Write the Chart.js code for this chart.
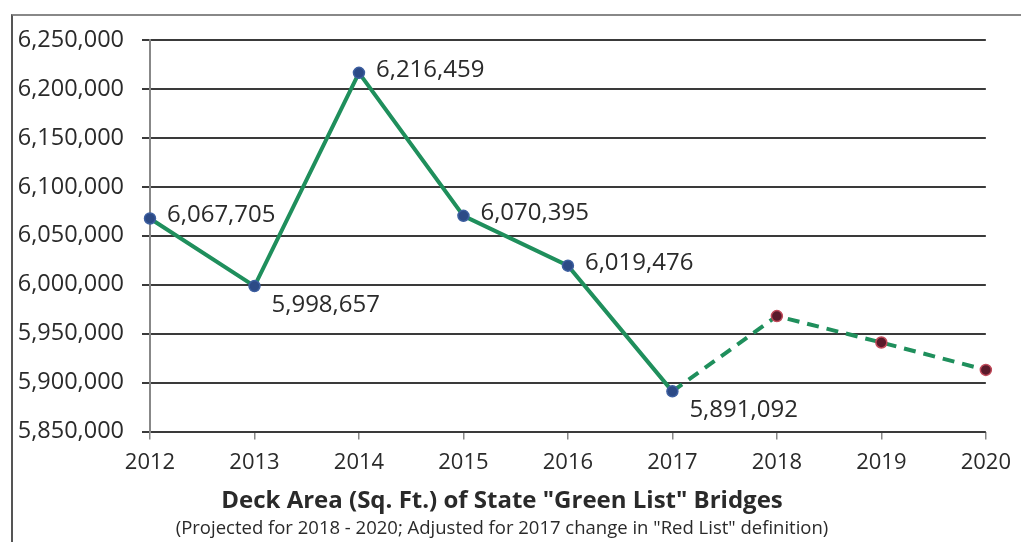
<!DOCTYPE html>
<html>
<head>
<meta charset="utf-8">
<script src="https://cdn.jsdelivr.net/npm/chart.js@4"></script>
<style>
  body { margin: 0; background: #fff; }
  #wrap { position: relative; width: 1021px; height: 542px; }
  #frame { position: absolute; left: 11px; top: 14px; right: 0; bottom: 0;
           border-left: 2px solid #555; border-top: 2px solid #888; }
  canvas { position: absolute; left: 0; top: 0; }
</style>
</head>
<body>
<div id="wrap">
  <div id="frame"></div>
  <canvas id="myChart" width="1021" height="542"></canvas>
</div>
<script>
const years = ['2012', '2013', '2014', '2015', '2016', '2017', '2018', '2019', '2020'];
const deckArea = [6067705, 5998657, 6216459, 6070395, 6019476, 5891092, 5968000, 5941000, 5913000];
const labelled = [true, true, true, true, true, true, false, false, false];
const yTicks = [5850000, 5900000, 5950000, 6000000, 6050000, 6100000, 6150000, 6200000, 6250000];

const firstProjected = 6;
const fmt = v => v.toLocaleString('en-US');
const font = '"Open Sans", "Noto Sans", sans-serif';

// value labels next to the points
const valueLabels = {
    id: 'valueLabels',
    afterDatasetsDraw(chart) {
        const ctx = chart.ctx;
        const meta = chart.getDatasetMeta(0);
        const below = { 1: true, 5: true };
        ctx.save();
        ctx.font = '24px ' + font;
        ctx.fillStyle = '#2a2a2a';
        ctx.textAlign = 'left';
        ctx.textBaseline = 'middle';
        meta.data.forEach((pt, i) => {
            if (!labelled[i]) return;
            const dy = below[i] ? 19 : -3;
            ctx.fillText(fmt(deckArea[i]), pt.x + 17, pt.y + dy);
        });
        ctx.restore();
    }
};

const ctx = document.getElementById('myChart').getContext('2d');
const myChart = new Chart(ctx, {
    type: 'line',
    data: {
        labels: years,
        datasets: [{
            data: deckArea,
            borderColor: '#1f8f5c',
            borderWidth: 4,
            pointRadius: 5.5,
            pointBorderWidth: 1.5,
            pointBackgroundColor: deckArea.map((v, i) => i < firstProjected ? '#2c4a86' : '#5a1a2a'),
            pointBorderColor: deckArea.map((v, i) => i < firstProjected ? '#3d5fa0' : '#c04a5a'),
            tension: 0,
            segment: {
                borderDash: c => c.p0DataIndex >= firstProjected - 1 ? [12, 8] : undefined
            }
        }]
    },
    options: {
        responsive: false,
        animation: false,
        layout: { padding: { left: 10, top: 40, right: 27, bottom: 0 } },
        plugins: {
            legend: { display: false },
            tooltip: { enabled: false },
            title: {
                display: true,
                position: 'bottom',
                weight: 1400,
                text: 'Deck Area (Sq. Ft.) of State "Green List" Bridges',
                color: '#2a2a2a',
                font: { family: font, size: 24, weight: 'bold' },
                padding: { top: 1, bottom: 2 }
            },
            subtitle: {
                display: true,
                position: 'bottom',
                weight: 1500,
                text: '(Projected for 2018 - 2020; Adjusted for 2017 change in "Red List" definition)',
                color: '#2a2a2a',
                font: { family: font, size: 18.5 },
                padding: { top: 0, bottom: 2 }
            }
        },
        scales: {
            x: {
                offset: false,
                grid: {
                    drawOnChartArea: false,
                    color: '#888',
                    lineWidth: 1.5,
                    tickLength: 8
                },
                border: { display: false },
                ticks: {
                    color: '#2a2a2a',
                    padding: 10,
                    font: { family: font, size: 22 }
                }
            },
            y: {
                min: 5850000,
                max: 6250000,
                afterBuildTicks: scale => { scale.ticks = yTicks.map(v => ({ value: v })); },
                afterFit: scale => { scale.width = 140; },
                grid: {
                    color: '#3a3a3a',
                    lineWidth: 2,
                    tickLength: 8
                },
                border: { display: true, color: '#888', width: 2 },
                ticks: {
                    color: '#2a2a2a',
                    padding: 18,
                    font: { family: font, size: 23.5 },
                    callback: v => fmt(v)
                }
            }
        }
    },
    plugins: [valueLabels]
});
</script>
</body>
</html>
